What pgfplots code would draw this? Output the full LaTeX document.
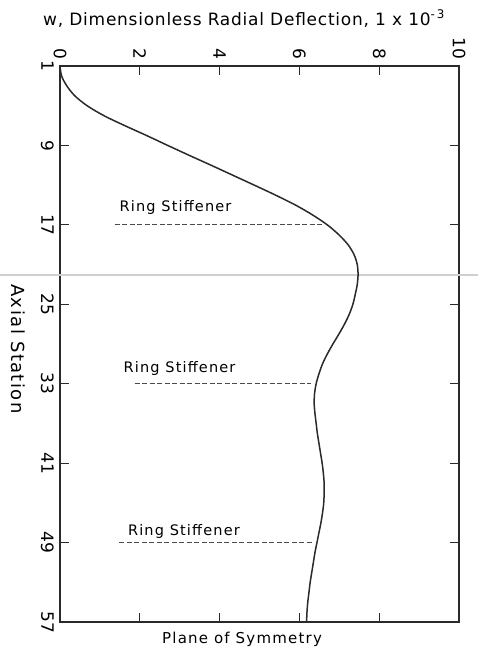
\documentclass[border=0pt]{standalone}
\usepackage{fontspec}
\setmainfont{DejaVu Sans}
\newfontfamily\lr[LetterSpace=8]{DejaVu Sans}
\newfontfamily\lrm[LetterSpace=4.4]{DejaVu Sans}
\newfontfamily\lrt{DejaVu Sans}
\usepackage{pgfplots}
\pgfplotsset{compat=1.18}
\definecolor{ink}{HTML}{2A2A2A}
\definecolor{fold}{HTML}{CFCFCF}

% w (x10^-3) against axial station, station axis running down the page
\pgfplotstableread{
w     s
0.00  1
0.04  2
0.17  3
0.37  4
0.68  5
1.10  6
1.62  7
2.17  8
2.70  9
3.24  10
3.79  11
4.33  12
4.87  13
5.40  14
5.90  15
6.33  16
6.70  17
6.99  18
7.22  19
7.37  20
7.45  21
7.47  22
7.45  23
7.40  24
7.34  25
7.25  26
7.13  27
6.99  28
6.84  29
6.70  30
6.58  31
6.49  32
6.42  33
6.38  34
6.37  35
6.39  36
6.42  37
6.45  38
6.49  39
6.53  40
6.57  41
6.60  42
6.62  43
6.62  44
6.61  45
6.58  46
6.54  47
6.49  48
6.44  49
6.39  50
6.35  51
6.31  52
6.27  53
6.24  54
6.21  55
6.19  56
6.18  57
}\deflection

\begin{document}
\begin{tikzpicture}
\useasboundingbox (0,0) rectangle (478pt,651pt);
\begin{axis}[
at={(60pt,29pt)},anchor=south west,
scale only axis,width=399pt,height=556pt,
xmin=0,xmax=10,ymin=1,ymax=57,y dir=reverse,
xtick={0,2,...,10},xticklabels={0,2,4,6,8,10},
ytick={1,9,...,57},yticklabels={1,9,17,25,33,41,49,57},
xticklabel pos=upper,
tick align=inside,major tick length=9pt,
xticklabel style={rotate=-90,anchor=east,inner sep=2pt,font=\lrt\fontsize{17}{17}\selectfont},
yticklabel style={rotate=-90,anchor=north,inner sep=2pt,font=\lrt\fontsize{17}{17}\selectfont},
xticklabel shift=4.5pt,yticklabel shift=4pt,
axis line style={ink,line width=1.1pt},
tick style={ink,line width=1pt},
clip=false,
]
\draw[fold,line width=1.3pt] ([xshift=-60pt]axis cs:0,22.05) -- ([xshift=19pt]axis cs:10,22.05);

\addplot[ink,line width=1.5pt,smooth,no markers] table[x=w,y=s] {\deflection};

\addplot[ink!85,line width=0.9pt,dash pattern=on 5pt off 2.5pt,no markers] coordinates {(1.37,17) (6.56,17)};
\addplot[ink!85,line width=0.9pt,dash pattern=on 5pt off 2.5pt,no markers] coordinates {(1.87,33) (6.30,33)};
\addplot[ink!85,line width=0.9pt,dash pattern=on 5pt off 2.5pt,no markers] coordinates {(1.49,49) (6.34,49)};

\node[anchor=base west,inner sep=0,font=\lr\fontsize{14.5}{14.5}\selectfont] at (axis cs:1.49,15.7) {Ring Stiffener};
\node[anchor=base west,inner sep=0,font=\lr\fontsize{14.5}{14.5}\selectfont] at (axis cs:1.59,31.9) {Ring Stiffener};
\node[anchor=base west,inner sep=0,font=\lr\fontsize{14.5}{14.5}\selectfont] at (axis cs:1.70,48.3) {Ring Stiffener};

\node[anchor=base west,inner sep=0,font=\lr\fontsize{15}{15}\selectfont] at ([yshift=-21pt]axis description cs:0.2556,0) {Plane of Symmetry};
\node[rotate=-90,anchor=center,inner sep=0,font=\lr\fontsize{18}{18}\selectfont] at ([xshift=-41.5pt]axis description cs:0,0.491) {Axial Station};
\node[anchor=base west,inner sep=0,font=\lrm\fontsize{17}{17}\selectfont] at ([yshift=41pt]axis description cs:-0.0426,1) {w, Dimensionless Radial Deflection, 1 x 10\textsuperscript{-\,3}};
\end{axis}
\end{tikzpicture}
\end{document}
